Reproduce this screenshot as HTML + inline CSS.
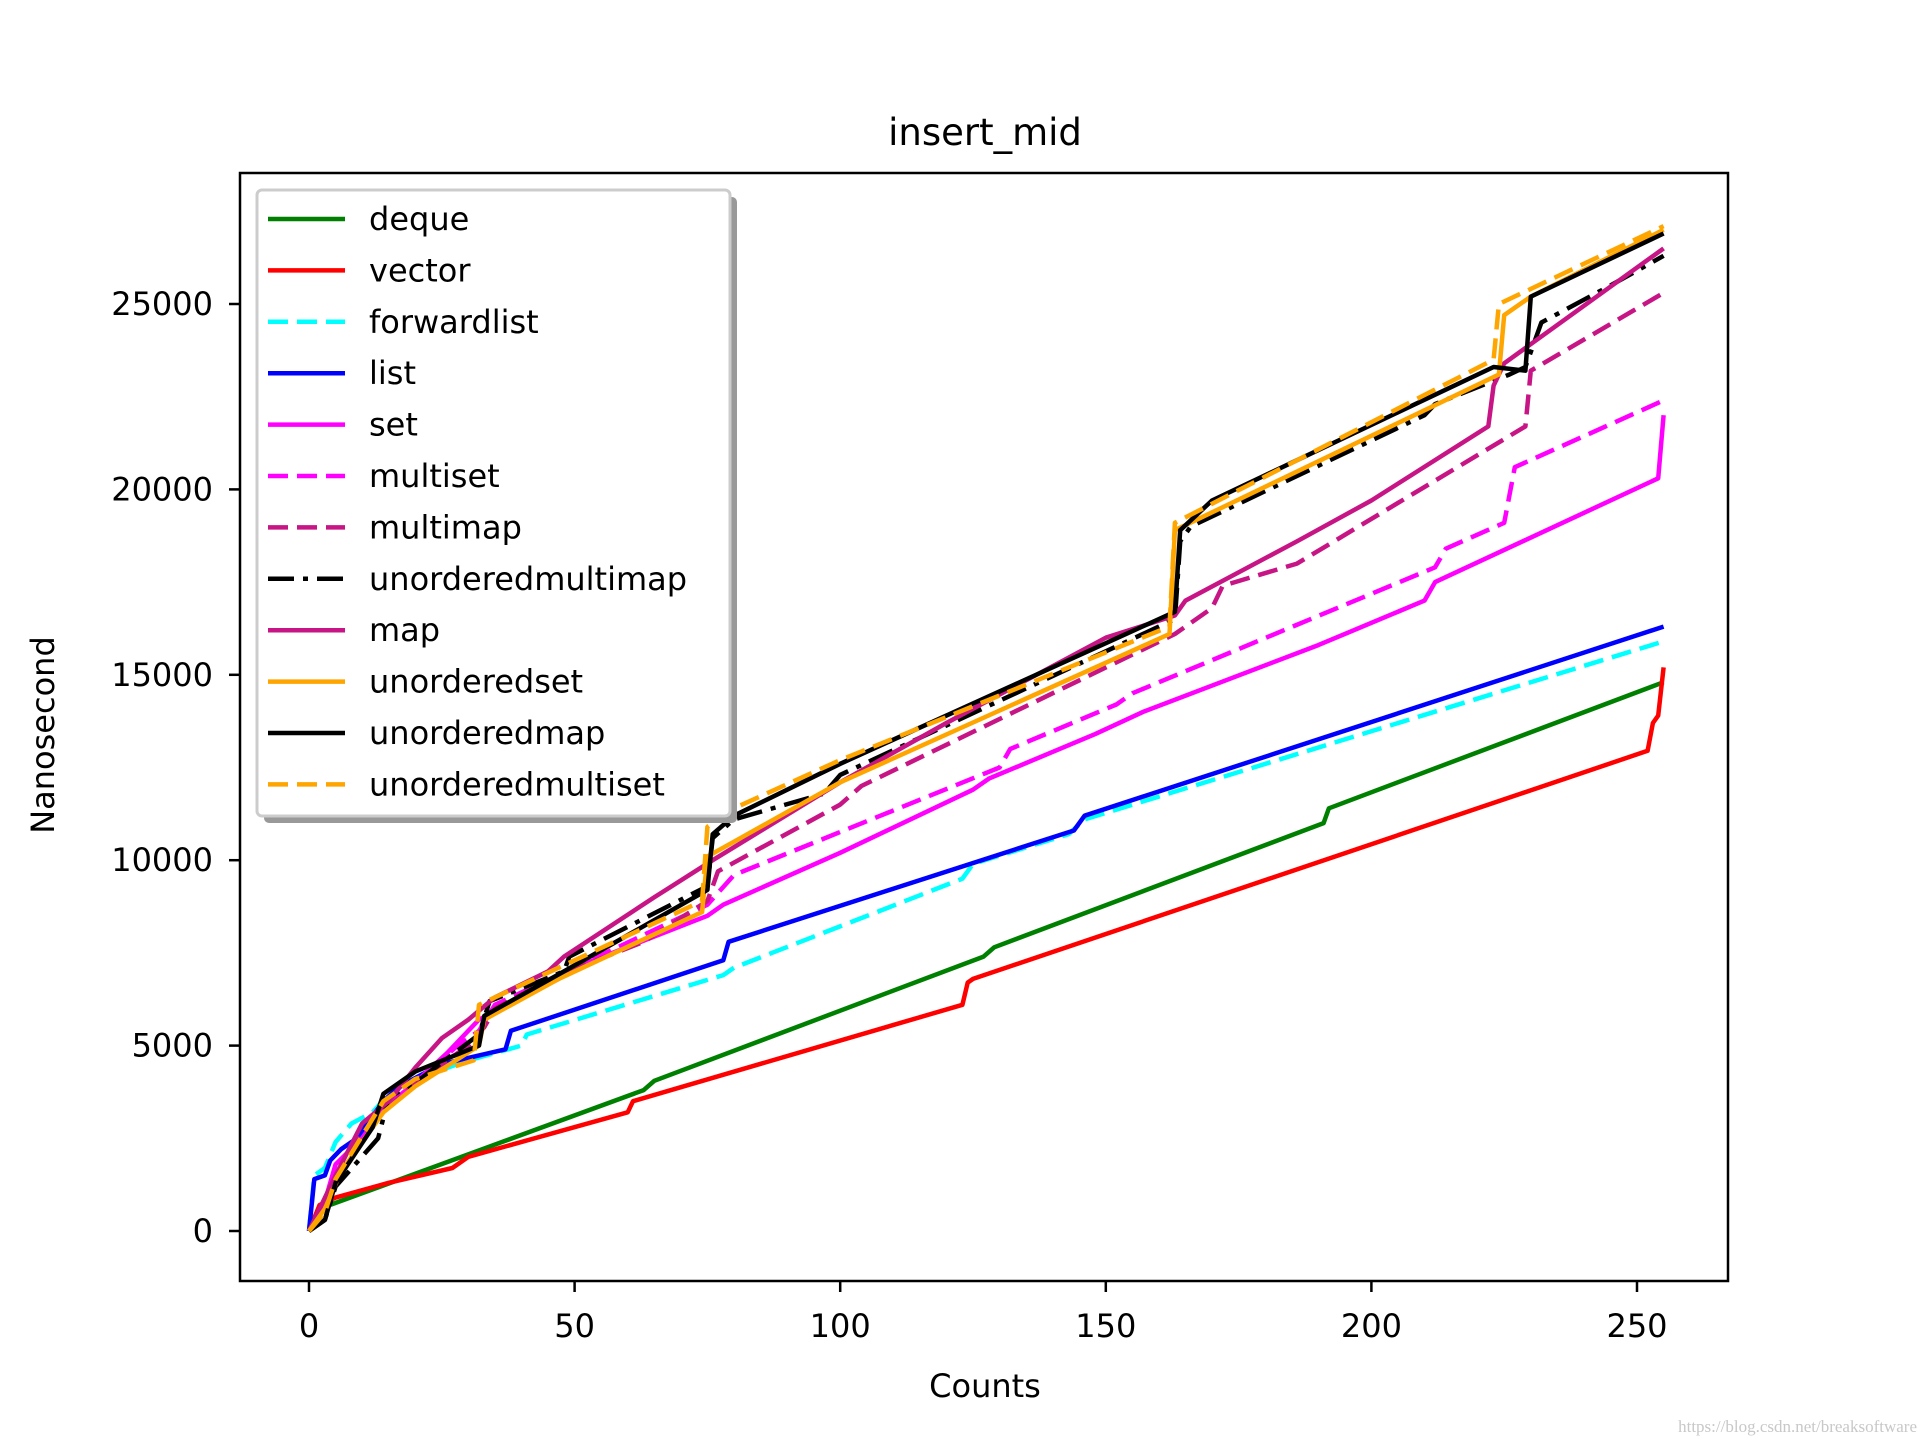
<!DOCTYPE html>
<html><head><meta charset="utf-8"><style>
html,body{margin:0;padding:0;background:#fff;}
svg{display:block;font-family:"DejaVu Sans","Liberation Sans",sans-serif;}
</style></head><body>
<svg id="chart" width="1920" height="1440" viewBox="0 0 1920 1440">
<text x="985" y="145" font-size="37" text-anchor="middle">insert_mid</text>
<g id="plot"></g>
<g id="xaxis"></g>
<g id="yaxis"></g>
<text x="985" y="1397" font-size="32" text-anchor="middle">Counts</text>
<text transform="translate(54,735) rotate(-90)" font-size="32" text-anchor="middle">Nanosecond</text>
<rect x="240" y="173" width="1488" height="1108" fill="none" stroke="#000" stroke-width="2.5"/>
<g id="legend"></g>
<text x="1917" y="1432" font-size="17" fill="#c8c8c8" text-anchor="end" font-family="Liberation Serif,serif">https://blog.csdn.net/breaksoftware</text>
</svg>
<script>
const xTicks = [0, 50, 100, 150, 200, 250];
const yTicks = [0, 5000, 10000, 15000, 20000, 25000];
const seriesNames = ["deque","vector","forwardlist","list","set","multiset","multimap","unorderedmultimap","map","unorderedset","unorderedmap","unorderedmultiset"];
const seriesColors = ["#008000","#ff0000","#00ffff","#0000ff","#ff00ff","#ff00ff","#c71585","#000000","#c71585","#ffa500","#000000","#ffa500"];
const seriesDash = ["","","20,9","","","20,9","20,9","26,9,5,9","","","","20,9"];
const deque = [[0,0],[2,600],[63,3800],[65,4050],[127,7400],[129,7650],[191,11000],[192,11400],[255,14800]];
const vector = [[0,0],[2,700],[5,900],[15,1300],[27,1700],[30,2000],[60,3200],[61,3500],[123,6100],[124,6700],[125,6800],[252,12950],[253,13700],[254,13900],[255,15200]];
const forwardlist = [[0,0],[1,1500],[3,1700],[5,2400],[8,2900],[12,3200],[15,3700],[20,4100],[30,4600],[40,5000],[41,5300],[78,6900],[80,7100],[123,9500],[125,9900],[143,10700],[146,11100],[255,15900]];
const list = [[0,0],[1,1400],[3,1500],[4,1900],[6,2200],[9,2500],[14,3500],[17,3900],[25,4500],[37,4900],[38,5400],[78,7300],[79,7800],[144,10800],[146,11200],[255,16300]];
const set = [[0,0],[3,800],[5,1800],[10,2500],[14,3300],[20,4000],[26,4800],[32,5700],[47,6800],[50,7100],[75,8500],[78,8800],[100,10200],[125,11900],[128,12200],[148,13400],[157,14000],[190,15800],[210,17000],[212,17500],[254,20300],[255,22000]];
const multiset = [[0,0],[4,900],[8,2200],[14,3300],[20,4000],[28,5000],[32,5400],[35,6100],[47,6900],[50,7100],[75,8800],[80,9600],[130,12500],[132,13000],[152,14200],[155,14500],[212,17900],[214,18400],[225,19100],[227,20600],[255,22400]];
const multimap = [[0,0],[4,1000],[9,2500],[14,3200],[20,4000],[30,5000],[33,5500],[35,6000],[47,6900],[63,7800],[75,8900],[77,9700],[100,11500],[104,12000],[163,16100],[165,16300],[170,16800],[172,17400],[186,18000],[229,21700],[230,23200],[255,25300]];
const unorderedmultimap = [[0,0],[3,300],[5,1200],[13,2500],[15,3600],[20,4000],[32,5300],[34,6200],[48,7000],[49,7400],[75,9300],[76,10600],[80,11100],[97,11800],[100,12300],[160,16300],[163,16500],[164,18600],[166,19000],[210,22000],[212,22300],[226,23100],[229,23300],[232,24500],[245,25500],[255,26300]];
const map = [[0,0],[5,1500],[10,2900],[15,3500],[20,4400],[25,5200],[30,5700],[35,6300],[45,7000],[48,7400],[65,9000],[76,10000],[100,12100],[120,13700],[150,16000],[163,16600],[165,17000],[186,18600],[200,19700],[222,21700],[223,22800],[225,23400],[255,26500]];
const unorderedset = [[0,0],[3,600],[6,1600],[14,3200],[20,3900],[32,5000],[33,5700],[47,6800],[74,8600],[75,10100],[80,10500],[100,12100],[162,16100],[163,18900],[224,23100],[225,24700],[230,25200],[255,27000]];
const unorderedmap = [[0,0],[3,300],[5,1300],[12,2800],[14,3700],[20,4300],[32,5000],[33,5800],[48,7000],[75,9200],[76,10700],[80,11200],[100,12600],[163,16700],[164,18900],[170,19700],[223,23300],[229,23200],[230,25200],[255,26900]];
const unorderedmultiset = [[0,0],[3,500],[5,1400],[14,3500],[20,4100],[31,4600],[32,6100],[47,7100],[74,8900],[75,10900],[80,11400],[100,12700],[162,16300],[163,19100],[223,23500],[224,25000],[255,27100]];
const seriesData = [deque,vector,forwardlist,list,set,multiset,multimap,unorderedmultimap,map,unorderedset,unorderedmap,unorderedmultiset];

const NS = "http://www.w3.org/2000/svg";
function xs(v){ return 309 + (v/250)*(1637-309); }
function ys(v){ return 1231 - (v/25000)*(1231-304); }
function mk(tag, attrs, parent){ const e=document.createElementNS(NS,tag); for(const k in attrs) e.setAttribute(k,attrs[k]); parent.appendChild(e); return e; }

const xa = document.getElementById('xaxis');
xTicks.forEach(t => {
  const l = mk('line',{x1:xs(t),x2:xs(t),y1:1281,y2:1292,stroke:'#000','stroke-width':2.5},xa);
  
  
  const tx = mk('text',{x:xs(t),y:1337,'font-size':32,'text-anchor':'middle'},xa);
  
  
  tx.textContent = t;
});
const ya = document.getElementById('yaxis');
yTicks.forEach(t => {
  const l = mk('line',{x1:229,x2:240,y1:ys(t),y2:ys(t),stroke:'#000','stroke-width':2.5},ya);
  
  
  const tx = mk('text',{x:213,y:ys(t)+11,'font-size':32,'text-anchor':'end'},ya);
  
  
  tx.textContent = t;
});

const plot = document.getElementById('plot');
seriesData.forEach((d,i) => {
  const p = mk('polyline',{points:d.map(q=>xs(q[0]).toFixed(1)+','+ys(q[1]).toFixed(1)).join(' '),fill:'none',stroke:seriesColors[i],'stroke-width':4.5,'stroke-linejoin':'round'},plot);
  if(seriesDash[i]) p.setAttribute('stroke-dasharray',seriesDash[i]);
  
  
});

const lg = document.getElementById('legend');
const sh = mk('rect',{x:264,y:197,width:473,height:626,rx:5,fill:'#999'},lg);


const bx = mk('rect',{x:257,y:190,width:473,height:626,rx:5,fill:'#fff',stroke:'#ccc','stroke-width':3},lg);


seriesNames.forEach((n,i) => {
  const y = 219 + i*51.4;
  const g = mk('g',{},lg);
  
  
  const l = mk('line',{x1:268,x2:345,y1:y,y2:y,stroke:seriesColors[i],'stroke-width':4.5},g);
  if(seriesDash[i]) l.setAttribute('stroke-dasharray',seriesDash[i]);
  
  
  const t = mk('text',{x:369,y:y+11,'font-size':32},g);
  
  
  t.textContent = n;
});
</script>
</body></html>
